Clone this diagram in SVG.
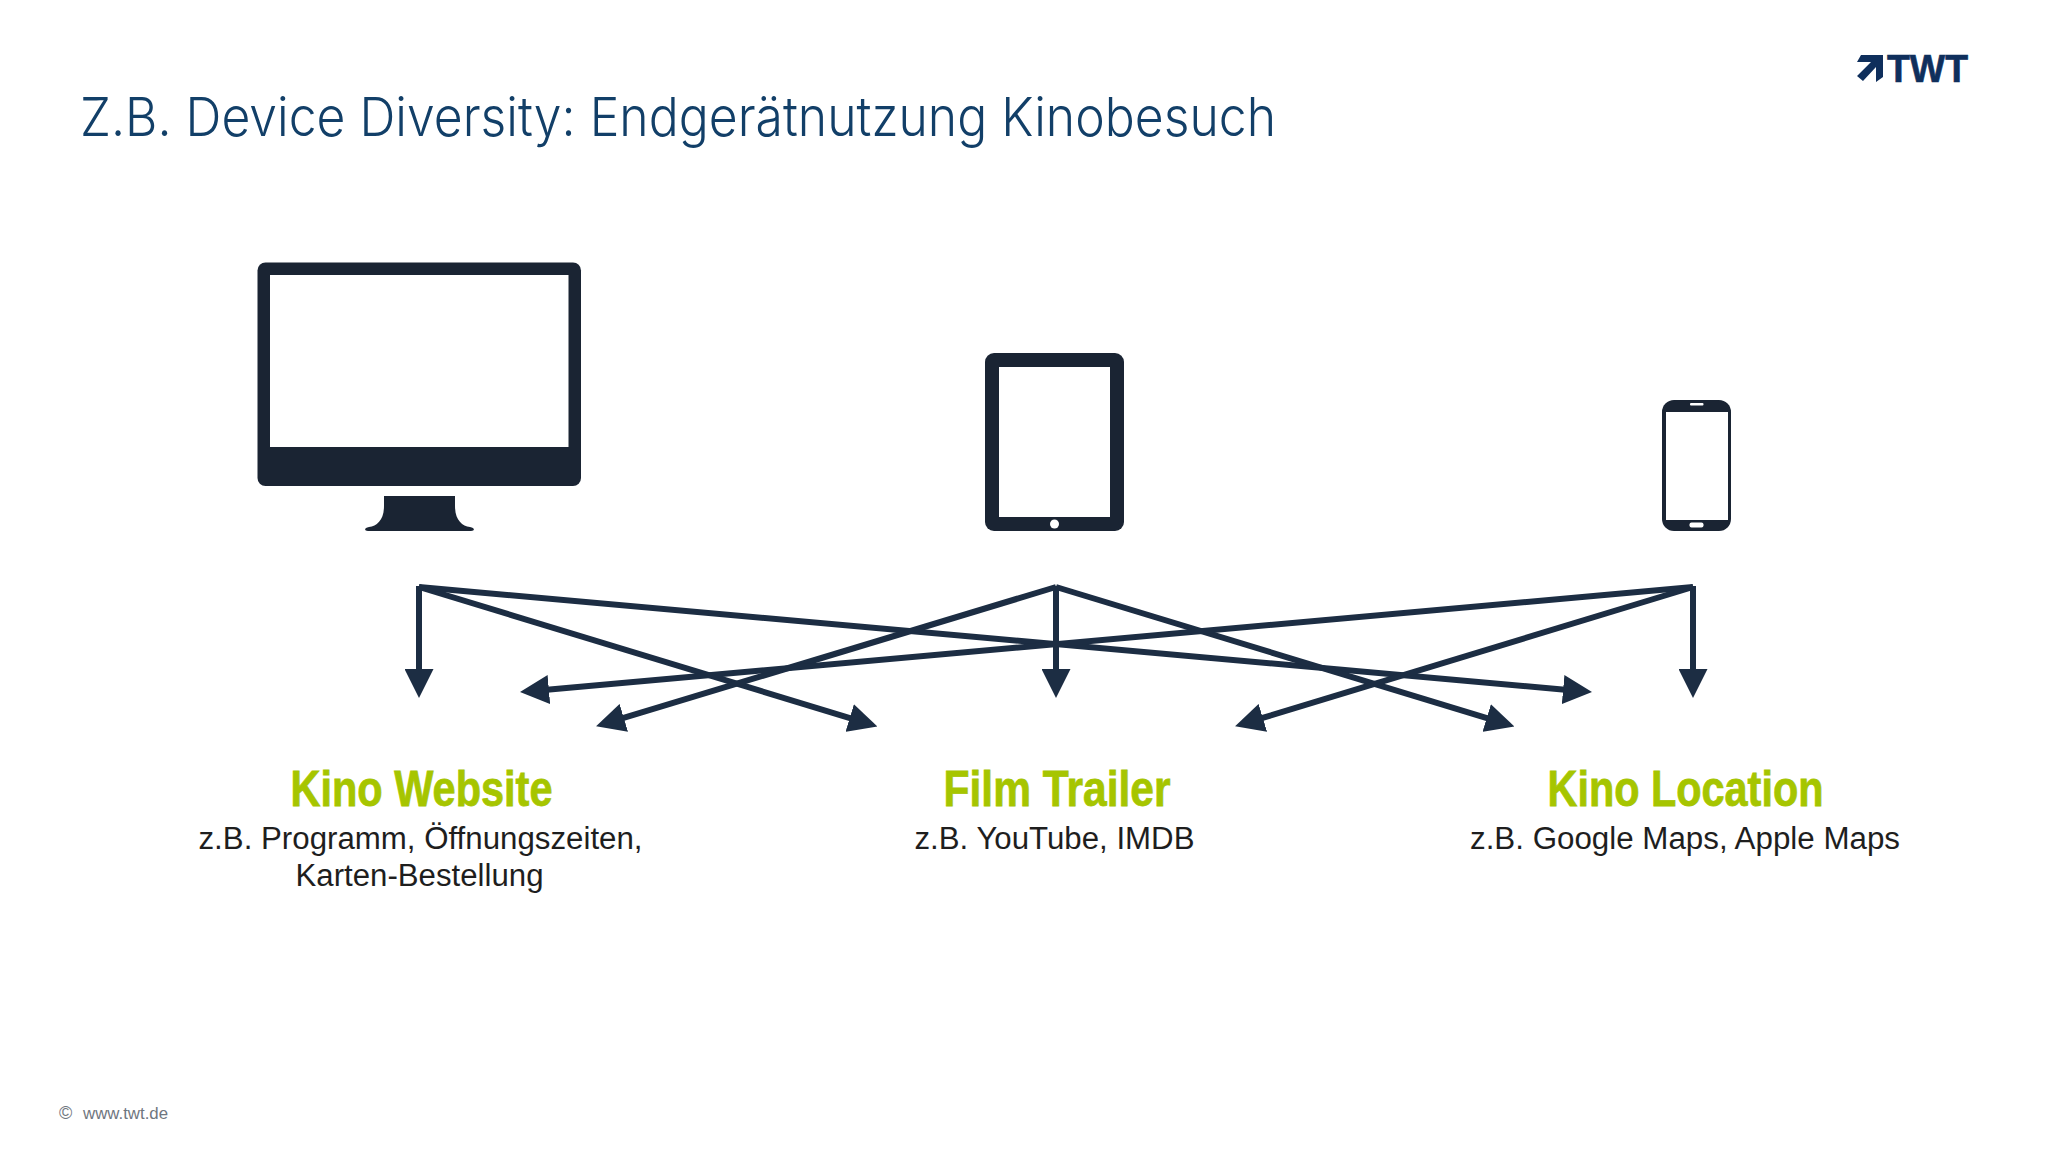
<svg xmlns="http://www.w3.org/2000/svg" width="2048" height="1153" viewBox="0 0 2048 1153">
<style>
.dev{fill:#1a2433}
.scr{fill:#fff}
.c{fill:none;stroke:#1c2d43;stroke-width:6;marker-end:url(#ah)}
.h{font:bold 50px "Liberation Sans",sans-serif;fill:#a6c500;stroke:#a6c500;stroke-width:.8;text-anchor:middle}
.s{font:31px "Liberation Sans",sans-serif;fill:#1e1e1e;text-anchor:middle}
.f{font:16.5px "Liberation Sans",sans-serif;fill:#6f7680}
</style>
<defs>
<marker id="ah" markerUnits="userSpaceOnUse" markerWidth="29" markerHeight="29" refX="2" refY="14.500" orient="auto"><path d="M0 0L29 14.500L0 29z" fill="#1c2d43"/></marker>
</defs>
<rect width="2048" height="1153" fill="#fff"/>
<text id="title" x="80" y="136" font-family="Inter,'Liberation Sans',sans-serif" font-weight="300" font-size="54" fill="#123f68" textLength="1196" lengthAdjust="spacingAndGlyphs">Z.B. Device Diversity: Endgerätnutzung Kinobesuch</text>
<g id="logo" fill="#0f2f5c">
<path d="M1861 55H1883V77L1876 82V67L1863 81L1857 76L1871 62H1857z"/>
<text x="1887" y="82" font-family="'Liberation Sans',sans-serif" font-weight="bold" font-size="38" stroke="#0f2f5c" stroke-width=".6" textLength="81" lengthAdjust="spacingAndGlyphs">TWT</text>
</g>
<g id="monitor">
<rect class="dev" x="257.500" y="262.500" width="323.500" height="223.500" rx="8"/>
<rect class="scr" x="270" y="275" width="298.500" height="172"/>
<path class="dev" d="M384 496H455V506C455 520 462 526 470 527C475 528 475 531 471 531H368C364 531 364 528 369 527C377 526 384 520 384 506z"/>
</g>
<g id="tablet">
<rect class="dev" x="985" y="353" width="139" height="178" rx="9"/>
<rect class="scr" x="999" y="367" width="111" height="150"/>
<circle class="scr" cx="1054.500" cy="524" r="4.500"/>
</g>
<g id="phone">
<rect class="dev" x="1662" y="400" width="69" height="131" rx="12"/>
<rect class="scr" x="1666" y="412" width="62" height="108"/>
<rect class="scr" x="1690" y="403" width="13.500" height="2.500" rx="1"/>
<rect class="scr" x="1689.500" y="522.500" width="14" height="5" rx="2"/>
</g>
<g id="connectors">
<path class="c" d="M419 586V671"/>
<path class="c" d="M419 587L851.600 718.600"/>
<path class="c" d="M419 587L1565.100 689.700"/>
<path class="c" d="M1056 587L621.900 718.400"/>
<path class="c" d="M1056 586V671"/>
<path class="c" d="M1056 587L1488.600 718.600"/>
<path class="c" d="M1693 587L546.900 689.700"/>
<path class="c" d="M1693 587L1260.900 718.400"/>
<path class="c" d="M1693 586V671"/>
</g>
<g id="kino-website">
<text class="h" x="421.500" y="806" textLength="262" lengthAdjust="spacingAndGlyphs">Kino Website</text>
<text class="s" x="420.500" y="849" textLength="444" lengthAdjust="spacingAndGlyphs">z.B. Programm, Öffnungszeiten,</text>
<text class="s" x="419.500" y="886" textLength="248" lengthAdjust="spacingAndGlyphs">Karten-Bestellung</text>
</g>
<g id="film-trailer">
<text class="h" x="1057" y="806" textLength="227" lengthAdjust="spacingAndGlyphs">Film Trailer</text>
<text class="s" x="1054.500" y="849" textLength="280" lengthAdjust="spacingAndGlyphs">z.B. YouTube, IMDB</text>
</g>
<g id="kino-location">
<text class="h" x="1685.500" y="806" textLength="276" lengthAdjust="spacingAndGlyphs">Kino Location</text>
<text class="s" x="1685" y="849" textLength="430" lengthAdjust="spacingAndGlyphs">z.B. Google Maps, Apple Maps</text>
</g>
<g id="footer">
<text x="59" y="1119" font-family="'Liberation Sans',sans-serif" font-size="18" fill="#6f7680">©</text>
<text class="f" x="83" y="1119" textLength="85" lengthAdjust="spacingAndGlyphs">www.twt.de</text>
</g>
</svg>
